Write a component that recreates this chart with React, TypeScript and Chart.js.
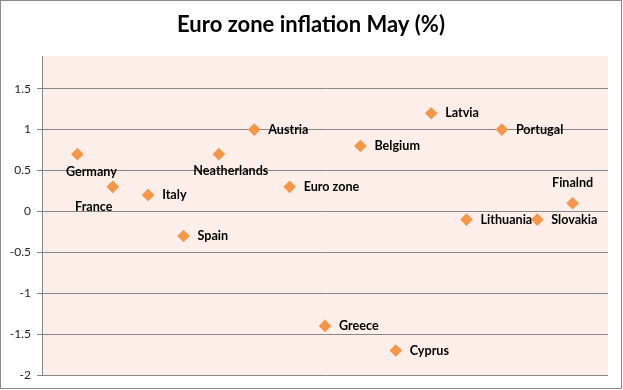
import React, { useEffect, useRef } from "react";
import { Chart, registerables } from "chart.js";

Chart.register(...registerables);

const title = "Euro zone inflation May (%)";
const countries = [
  "Germany", "France", "Italy", "Spain", "Neatherlands", "Austria", "Euro zone",
  "Greece", "Belgium", "Cyprus", "Latvia", "Lithuania", "Portugal", "Slovakia", "Finalnd",
];
const inflation = [0.7, 0.3, 0.2, -0.3, 0.7, 1.0, 0.3, -1.4, 0.8, -1.7, 1.2, -0.1, 1.0, -0.1, 0.1];
const yTicks = [-2, -1.5, -1, -0.5, 0, 0.5, 1, 1.5];

// label placement (layout only): dx, dy, alignment
const labelLayout: Record<string, [number, number, CanvasTextAlign]> = {
  Germany: [14, 18, "center"],
  France: [-19, 20, "center"],
  Neatherlands: [12, 17, "center"],
  Finalnd: [0, -20, "center"],
};
const defaultLayout: [number, number, CanvasTextAlign] = [14, 0, "left"];

const FONT = "Lato, 'Open Sans', sans-serif";

const decorPlugin = {
  id: "decor",
  beforeDraw(chart: any) {
    const { ctx, chartArea, width, height } = chart;
    ctx.save();
    ctx.fillStyle = "#ffffff";
    ctx.fillRect(0, 0, width, height);
    ctx.fillStyle = "#fdeee9";
    ctx.fillRect(chartArea.left, chartArea.top, chartArea.right - chartArea.left, chartArea.bottom - chartArea.top);
    ctx.strokeStyle = "#8a8a8a";
    ctx.lineWidth = 1;
    ctx.strokeRect(0.5, 0.5, width - 2, height - 2);
    ctx.restore();
  },
  afterDraw(chart: any) {
    const { ctx } = chart;
    ctx.save();
    ctx.fillStyle = "#000000";
    ctx.font = `bold 22px ${FONT}`;
    ctx.textAlign = "center";
    ctx.textBaseline = "middle";
    ctx.fillText(title, 311, 25);
    ctx.restore();
  },
  afterDatasetsDraw(chart: any) {
    const { ctx } = chart;
    const meta = chart.getDatasetMeta(0);
    ctx.save();
    ctx.fillStyle = "#000000";
    ctx.font = `bold 12.6px ${FONT}`;
    ctx.textBaseline = "middle";
    meta.data.forEach((pt: any, i: number) => {
      const name = countries[i];
      const [dx, dy, align] = labelLayout[name] || defaultLayout;
      ctx.textAlign = align;
      ctx.fillText(name, pt.x + dx, pt.y + dy);
    });
    ctx.restore();
  },
};

export default function App() {
  const ref = useRef<HTMLCanvasElement | null>(null);
  useEffect(() => {
    if (!ref.current) return;
    const chart = new Chart(ref.current, {
      type: "scatter",
      data: {
        datasets: [
          {
            label: "Inflation",
            data: inflation.map((v, i) => ({ x: i + 1, y: v })),
            pointStyle: "rectRot",
            pointRadius: 6.3,
            pointBorderWidth: 0,
            backgroundColor: "#f79646",
            borderColor: "#f79646",
          },
        ],
      },
      options: {
        animation: false,
        responsive: false,
        layout: { padding: { top: 56, right: 15, bottom: 15, left: 0 } },
        plugins: {
          legend: { display: false },
          tooltip: { enabled: false },
          title: { display: false },
        },
        scales: {
          x: { type: "linear", min: 0, max: 16, display: false },
          y: {
            type: "linear",
            min: -2,
            max: 1.9,
            afterBuildTicks: (scale: any) => {
              scale.ticks = yTicks.map((v) => ({ value: v }));
            },
            afterFit: (scale: any) => {
              scale.width = 42;
            },
            grid: { color: "#868686", lineWidth: 1, tickLength: 5, drawTicks: true },
            border: { display: true, color: "#868686", width: 1 },
            ticks: {
              font: { family: FONT, size: 12 },
              color: "#262626",
              padding: 6,
              callback: (v: any) => String(v),
            },
          },
        },
      },
      plugins: [decorPlugin],
    });
    return () => chart.destroy();
  }, []);
  return (
    <div style={{ position: "fixed", left: 0, top: 0, width: 623, height: 390, background: "#fff" }}>
      <canvas ref={ref} width={623} height={390} style={{ display: "block" }} />
    </div>
  );
}
